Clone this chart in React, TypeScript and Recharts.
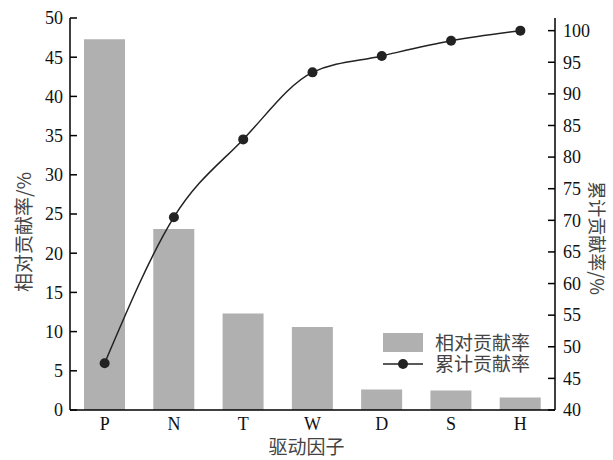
import { ComposedChart, Bar, Line, XAxis, YAxis, Legend } from "recharts";

const factors = ["P", "N", "T", "W", "D", "S", "H"];
const relative = [47.3, 23.1, 12.3, 10.6, 2.6, 2.5, 1.6];
const cumulative = [47.4, 70.5, 82.8, 93.4, 96.0, 98.4, 100];
const leftTicks = [0, 5, 10, 15, 20, 25, 30, 35, 40, 45, 50];
const rightTicks = [40, 45, 50, 55, 60, 65, 70, 75, 80, 85, 90, 95, 100];

const data = factors.map((f, i) => ({ name: f, rel: relative[i], cum: cumulative[i] }));

const SERIF = "'Liberation Serif', 'Times New Roman', serif";
const CJK = "'Noto Sans CJK SC', sans-serif";

const LeftTick = (p: any) => (
  <g>
    <line x1={p.x + 7} x2={p.x + 14} y1={p.y} y2={p.y} stroke="#000" strokeWidth={1.5} />
    <text x={p.x} y={p.y} dy="0.35em" textAnchor="end" fontSize={18} fontFamily={SERIF} fill="#111">
      {p.payload.value}
    </text>
  </g>
);

const RightTick = (p: any) => (
  <g>
    <line x1={p.x - 8} x2={p.x - 15} y1={p.y} y2={p.y} stroke="#000" strokeWidth={1.5} />
    <text x={p.x} y={p.y} dy="0.35em" textAnchor="start" fontSize={18} fontFamily={SERIF} fill="#111">
      {p.payload.value}
    </text>
  </g>
);

const LegendBox = () => (
  <svg width={175} height={46} style={{ display: "block", overflow: "visible" }}>
    <rect x={0} y={0} width={40} height={19} fill="#b0b0b0" />
    <text x={52} y={10} dy="0.35em" fontSize={19} fontFamily={CJK} fill="#444">相对贡献率</text>
    <line x1={0} x2={40} y1={31} y2={31} stroke="#222" strokeWidth={1.5} />
    <circle cx={20} cy={31} r={5} fill="#222" />
    <text x={52} y={31} dy="0.35em" fontSize={19} fontFamily={CJK} fill="#444">累计贡献率</text>
  </svg>
);

export default function App() {
  return (
    <div style={{ position: "absolute", left: 0, top: 0 }}>
      <ComposedChart width={613} height={460} data={data} margin={{ top: 18, right: 0, bottom: 0, left: 0 }} barCategoryGap={14}>
        <XAxis
          dataKey="name"
          height={50}
          tickLine={false}
          tickSize={0}
          tickMargin={7}
          axisLine={{ stroke: "#000", strokeWidth: 1.5 }}
          tick={{ fontSize: 18, fontFamily: SERIF, fill: "#111" }}
          label={(props: any) => {
            const vb = props.viewBox;
            return (
              <text x={vb.x + vb.width / 2 - 6} y={vb.y + vb.height - 6} textAnchor="middle" fontSize={19} fontFamily={CJK} fill="#444">
                驱动因子
              </text>
            );
          }}
        />
        <YAxis
          yAxisId="left"
          orientation="left"
          width={70}
          domain={[0, 50]}
          ticks={leftTicks}
          interval={0}
          tickLine={false}
          tickSize={0}
          tickMargin={7}
          axisLine={{ stroke: "#000", strokeWidth: 1.5 }}
          tick={<LeftTick />}
          label={(props: any) => {
            const vb = props.viewBox;
            const cx = vb.x + 22;
            const cy = vb.y + vb.height / 2 + 18;
            return (
              <text x={cx} y={cy} transform={`rotate(-90 ${cx} ${cy})`} textAnchor="middle" dominantBaseline="central" fontSize={19} fontFamily={CJK} fill="#444">
                相对贡献率/%
              </text>
            );
          }}
        />
        <YAxis
          yAxisId="right"
          orientation="right"
          width={58}
          domain={[40, 102]}
          ticks={rightTicks}
          interval={0}
          tickLine={false}
          tickSize={0}
          tickMargin={8}
          axisLine={{ stroke: "#000", strokeWidth: 1.5 }}
          tick={<RightTick />}
          label={(props: any) => {
            const vb = props.viewBox;
            const cx = vb.x + vb.width - 15;
            const cy = vb.y + vb.height / 2 + 24;
            return (
              <text x={cx} y={cy} transform={`rotate(90 ${cx} ${cy})`} textAnchor="middle" dominantBaseline="central" fontSize={18} fontFamily={CJK} fill="#444">
                累计贡献率/%
              </text>
            );
          }}
        />
        <Legend
          layout="horizontal"
          verticalAlign="middle"
          align="center"
          content={() => <LegendBox />}
          wrapperStyle={{ position: "absolute", left: 383, top: 333, width: 175, height: 46 }}
        />
        <Bar yAxisId="left" dataKey="rel" name="相对贡献率" fill="#b0b0b0" barSize={41} isAnimationActive={false} />
        <Line
          yAxisId="right"
          dataKey="cum"
          name="累计贡献率"
          type="monotone"
          stroke="#222"
          strokeWidth={1.5}
          dot={{ r: 5, fill: "#222", stroke: "#222", strokeWidth: 0 }}
          activeDot={false}
          isAnimationActive={false}
        />
      </ComposedChart>
    </div>
  );
}
